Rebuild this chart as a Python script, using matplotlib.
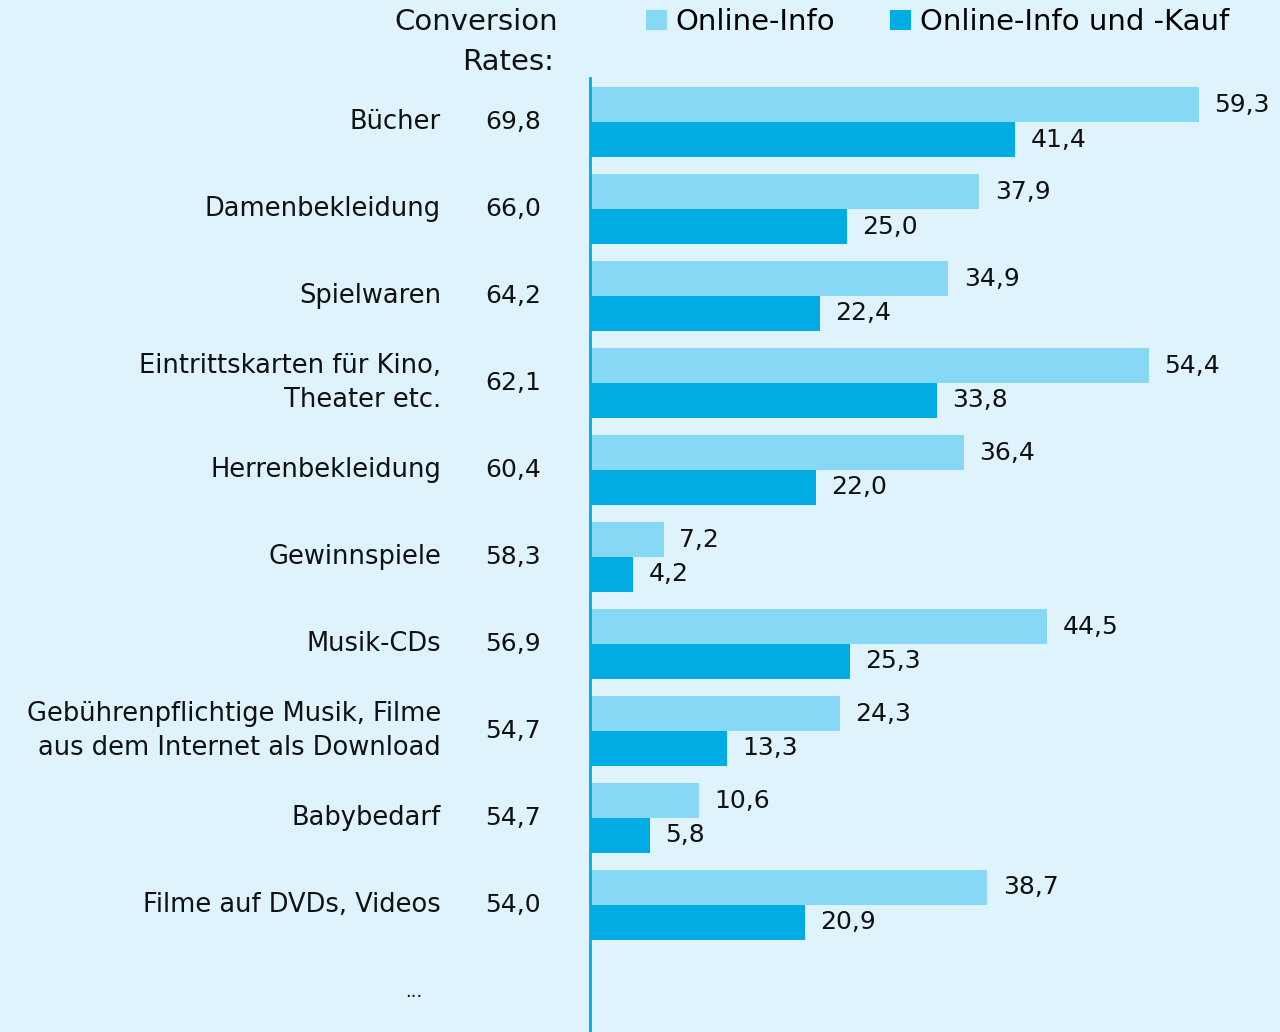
import matplotlib
matplotlib.use("Agg")
import matplotlib.pyplot as plt
import numpy as np

categories = ["Bücher", "Damenbekleidung", "Spielwaren",
              "Eintrittskarten für Kino,\nTheater etc.", "Herrenbekleidung",
              "Gewinnspiele", "Musik-CDs",
              "Gebührenpflichtige Musik, Filme\naus dem Internet als Download",
              "Babybedarf", "Filme auf DVDs, Videos"]
conversion = ["69,8", "66,0", "64,2", "62,1", "60,4", "58,3", "56,9", "54,7", "54,7", "54,0"]
online_info = [59.3, 37.9, 34.9, 54.4, 36.4, 7.2, 44.5, 24.3, 10.6, 38.7]
online_kauf = [41.4, 25.0, 22.4, 33.8, 22.0, 4.2, 25.3, 13.3, 5.8, 20.9]
series_names = ["Online-Info", "Online-Info und -Kauf"]

BG = "#dff3fd"
LIGHT = "#87d8f5"
DARK = "#00ace3"
LABEL_FONT = ["DejaVu Sans"]
HEAD_FONT = ["DejaVu Sans"]

fig = plt.figure(figsize=(12.8, 10.32), dpi=100, facecolor=BG)
ax = fig.add_axes([590 / 1280, 0, 1 - 590 / 1280, 1 - 78 / 1032])
ax.set_facecolor(BG)

y = np.arange(len(categories))
h = 0.402
ax.barh(y - h / 2, online_info, height=h, color=LIGHT, label=series_names[0])
ax.barh(y + h / 2, online_kauf, height=h, color=DARK, label=series_names[1])

def fmt(v):
    return f"{v:.1f}".replace(".", ",")

for yi, a, b in zip(y, online_info, online_kauf):
    ax.text(a + 1.5, yi - h / 2, fmt(a), va="center", ha="left", fontsize=18,
            family=LABEL_FONT, color="#111111")
    ax.text(b + 1.5, yi + h / 2, fmt(b), va="center", ha="left", fontsize=18,
            family=LABEL_FONT, color="#111111")

trans = ax.get_yaxis_transform()
for yi, cat, cr in zip(y, categories, conversion):
    ax.text(-149 / 690, yi, cat, transform=trans, ha="right", va="center",
            fontsize=18.5, family=LABEL_FONT, color="#111111", linespacing=1.4)
    ax.text(-49 / 690, yi, cr, transform=trans, ha="right", va="center",
            fontsize=18, family=LABEL_FONT, color="#111111")
ax.text(-168 / 690, 10, "...", transform=trans, ha="right", va="center",
        fontsize=13, family=LABEL_FONT, color="#111111")

ax.set_xlim(0, 690 / 10.27)
ax.set_ylim(10.46, -0.506)
for s in ["top", "right", "bottom"]:
    ax.spines[s].set_visible(False)
ax.spines["left"].set_color(DARK)
ax.spines["left"].set_linewidth(2)
ax.set_xticks([])
ax.set_yticks([])

fig.text(558 / 1280, 1 - 22 / 1032, "Conversion", ha="right", va="center",
         fontsize=21, family=HEAD_FONT, color="#111111")
fig.text(554 / 1280, 1 - 62 / 1032, "Rates:", ha="right", va="center",
         fontsize=21, family=HEAD_FONT, color="#111111")

leg = fig.legend(loc="center left", bbox_to_anchor=(620 / 1280, 1 - 22 / 1032),
                 ncol=2, frameon=False, handlelength=0.7, handleheight=0.7,
                 handletextpad=0.3, columnspacing=1.9,
                 prop={"family": HEAD_FONT, "size": 21})

fig.savefig("out.png", dpi=100, facecolor=BG)
